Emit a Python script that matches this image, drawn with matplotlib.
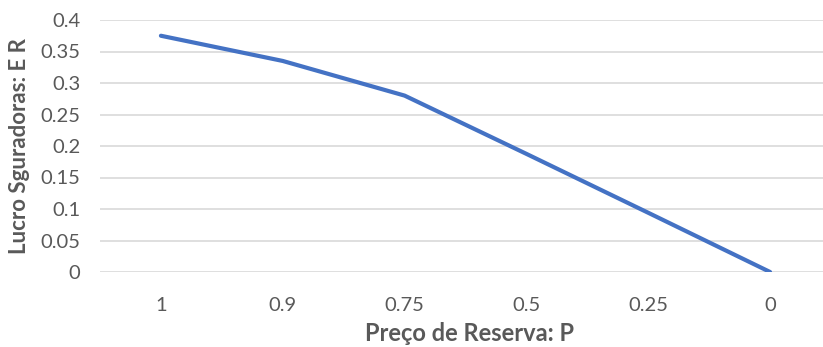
import matplotlib
matplotlib.use("Agg")
import matplotlib.pyplot as plt

categories = ["1", "0.9", "0.75", "0.5", "0.25", "0"]
lucro = [0.375, 0.335, 0.28, 0.1875, 0.094, 0.0]
y_ticks = [0, 0.05, 0.1, 0.15, 0.2, 0.25, 0.3, 0.35, 0.4]
y_labels = ["0", "0.05", "0.1", "0.15", "0.2", "0.25", "0.3", "0.35", "0.4"]

plt.rcParams["font.family"] = ["Lato", "DejaVu Sans"]
text_color = "#595959"

W, H = 823, 347
fig = plt.figure(figsize=(W / 100, H / 100), dpi=100)
# plot area in pixels: left 100, right 831 (cropped), top 20, bottom 272
ax = fig.add_axes([100 / W, (H - 272) / H, 731 / W, 252 / H])

x = list(range(len(categories)))
ax.plot(x, lucro, color="#4472C4", linewidth=3.0, solid_capstyle="round", zorder=3)

ax.set_xlim(-0.5, len(categories) - 0.5)
ax.set_ylim(0, 0.4)
ax.set_yticks(y_ticks)
ax.set_yticklabels(y_labels)
ax.set_xticks(x)
ax.set_xticklabels(categories)
ax.yaxis.grid(True, color="#D9D9D9", linewidth=1.2)
ax.set_axisbelow(True)
for s in ax.spines.values():
    s.set_visible(False)
ax.tick_params(axis="both", length=0, labelsize=14.5, colors=text_color)
ax.tick_params(axis="y", pad=14)
ax.tick_params(axis="x", pad=18)

fig.text(469 / W, 1 - 341 / H, "Preço de Reserva: P", ha="center", va="baseline",
         fontsize=17, fontweight="bold", color=text_color)
fig.text(20 / W, 1 - 146.5 / H, "Lucro Sguradoras: E R", ha="center", va="center",
         rotation=90, fontsize=16, fontweight="bold", color=text_color)

fig.savefig("out.png", dpi=100)
